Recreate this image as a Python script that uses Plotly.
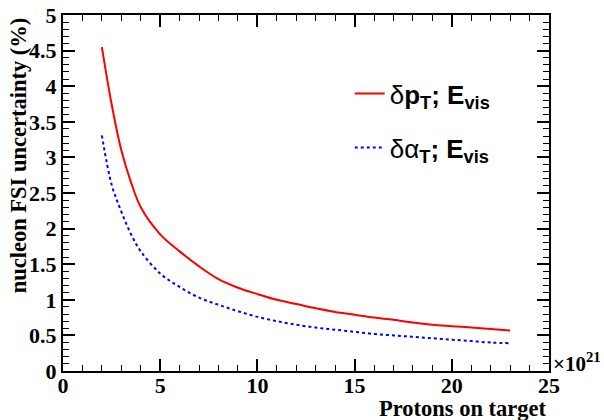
import plotly.graph_objects as go

pot = [2, 2.5, 3, 3.5, 4, 5, 6, 7, 8, 9, 10, 11, 12, 13, 14, 15, 16, 17, 18, 19, 20, 21, 22, 23]
dpt_evis = [4.55, 3.75, 3.1, 2.65, 2.3, 1.92, 1.68, 1.47, 1.29, 1.17, 1.08, 1.0, 0.94, 0.88,
            0.83, 0.79, 0.75, 0.72, 0.68, 0.65, 0.63, 0.61, 0.59, 0.57]
dat_evis = [3.31, 2.62, 2.24, 1.92, 1.68, 1.37, 1.18, 1.03, 0.93, 0.84, 0.76, 0.70, 0.65, 0.61,
            0.58, 0.55, 0.52, 0.50, 0.48, 0.46, 0.44, 0.42, 0.40, 0.39]
names = ["δ<b>p</b><sub><b>T</b></sub><b>; E</b><sub><b>vis</b></sub>",
         "δα<sub><b>T</b></sub><b>; E</b><sub><b>vis</b></sub>"]
x_ticks = [0, 5, 10, 15, 20, 25]
x_ticklabels = ["0", "5", "10", "15", "20", "25"]
y_ticks = [0, 0.5, 1, 1.5, 2, 2.5, 3, 3.5, 4, 4.5, 5]
y_ticklabels = ["0", "0.5", "1", "1.5", "2", "2.5", "3", "3.5", "4", "4.5", "5"]

fig = go.Figure()
fig.add_trace(go.Scatter(x=pot, y=dpt_evis, mode="lines", name=names[0], legendgroup="a",
                         line=dict(color="#ff0000", width=2, shape="spline")))
fig.add_trace(go.Scatter(x=pot, y=dat_evis, mode="lines", name=names[1], legendgroup="b",
                         line=dict(color="#0000ff", width=2, dash="dot", shape="spline")))

tickfont = dict(family="Liberation Serif", size=22, color="black", weight=700)
axis_common = dict(showline=True, linecolor="black", linewidth=2, mirror="ticks",
                   ticks="inside", ticklen=12, tickwidth=1.5, tickcolor="black",
                   showgrid=False, zeroline=False, tickfont=tickfont, automargin=False)

fig.update_xaxes(range=[0, 25], tickmode="array", tickvals=x_ticks,
                 ticktext=["<b>%s</b>" % t for t in x_ticklabels], ticklabelstandoff=-6,
                 minor=dict(dtick=1, tick0=0, ticks="inside", ticklen=6, tickcolor="black", tickwidth=1),
                 **axis_common)
fig.update_yaxes(range=[0, 5], tickmode="array", tickvals=y_ticks,
                 ticktext=["<b>%s</b>" % t for t in y_ticklabels],
                 minor=dict(dtick=0.1, tick0=0, ticks="inside", ticklen=6, tickcolor="black", tickwidth=1),
                 **axis_common)

fig.add_annotation(text="<b>nucleon FSI uncertainty (%)</b>", textangle=-90, xref="paper", yref="paper",
                   x=-0.092, y=1.0, xanchor="center", yanchor="top", showarrow=False,
                   font=dict(family="Liberation Serif", size=22.5, color="black", weight=700))
fig.add_annotation(text="<b>Protons on target</b>", xref="paper", yref="paper",
                   x=1.0, y=-0.104, xanchor="right", yanchor="middle", showarrow=False,
                   font=dict(family="Liberation Serif", size=22.5, color="black", weight=700))
fig.add_annotation(text="<b>×10<sup>21</sup></b>", xref="paper", yref="paper",
                   x=1.004, y=0.024, xanchor="left", yanchor="middle", showarrow=False,
                   font=dict(family="Liberation Serif", size=21, color="black", weight=700))

fig.update_layout(
    width=604, height=420,
    margin=dict(l=63, r=55, t=15, b=49),
    paper_bgcolor="white", plot_bgcolor="white",
    showlegend=True,
    legend=dict(x=0.59, y=0.845, xanchor="left", yanchor="top", bgcolor="rgba(0,0,0,0)",
                font=dict(family="Liberation Sans", size=26, color="black"),
                itemwidth=30, tracegroupgap=17, traceorder="grouped"),
)

fig.write_html("out.html", config={"displayModeBar": False},
               post_script="document.body.style.margin='0';document.body.style.overflow='hidden';")
